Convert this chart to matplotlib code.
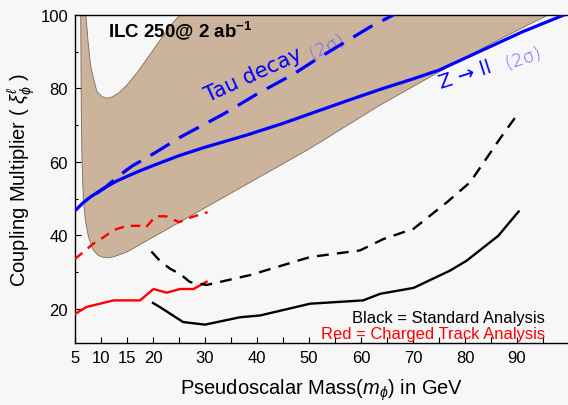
import matplotlib
matplotlib.use("Agg")
import matplotlib.pyplot as plt
import numpy as np

plt.rcParams['font.family'] = ['Liberation Sans', 'DejaVu Sans']
plt.rcParams['mathtext.fontset'] = 'custom'
plt.rcParams['mathtext.rm'] = 'Liberation Sans'
plt.rcParams['mathtext.it'] = 'Liberation Sans:italic'
plt.rcParams['mathtext.bf'] = 'Liberation Sans:bold'

# tan band (allowed region): lower edge and the notch at the top
band_low_mass = [6.0, 6.1, 6.2, 6.35, 6.6, 7.0, 7.6, 8.5, 9.5, 10.5, 11.5, 12.5, 15, 20, 25, 30,
                 40, 50, 63.7, 75, 85, 95.7, 99.8, 100]
band_low_coup = [106, 100, 75, 60, 50, 44, 39.5, 36, 34.5, 34, 33.9, 34.2, 35.5, 39.5, 43.5, 47.5,
                 55.5, 63.5, 75.5, 84.5, 92.2, 99.8, 103, 110]
notch_mass = [27, 25.2, 23.3, 21, 18.8, 17, 14.9, 13.5, 12.2, 11.1, 10.2, 9.2, 8.6, 8.0, 7.5, 7.1, 6.9]
notch_coup = [110, 100, 97.1, 92.4, 88, 84.4, 80.8, 78.9, 77.7, 77.3, 77.8, 79.2, 82.5, 86.2, 93, 100, 106]

# Z -> ll (2 sigma), blue solid
z_mass = [5, 6.5, 8, 10.5, 13, 17, 20, 25, 30, 38, 45, 51, 57, 64, 70, 75, 83, 91, 99]
z_coup = [46.7, 48.8, 50.5, 52.8, 54.8, 57.3, 59.0, 61.7, 64.0, 67.3, 70.5, 73.5, 76.5, 79.9, 82.6, 85.0, 90.2, 95.4, 100]

# Tau decay (2 sigma), blue dashed
tau_mass = [9, 10.5, 13.7, 15.9, 20.4, 25.2, 33.5, 39.9, 47, 51.5, 61.7, 66.2]
tau_coup = [51.3, 52.7, 56.5, 58.8, 62.5, 66.7, 73.0, 78.4, 83.9, 88.0, 96.7, 100]

# charged track analysis (red)
red_dash_mass = [5, 8.5, 10.5, 12.5, 15, 17.5, 18.5, 20.5, 22.5, 25, 27.5, 30.5]
red_dash_coup = [33.6, 37.7, 39.5, 41.5, 42.6, 42.6, 42.0, 45.2, 45.2, 43.6, 45.0, 46.3]
red_solid_mass = [5, 7.2, 12.4, 17.5, 20.1, 22.6, 25.2, 27.8, 30.3]
red_solid_coup = [18.6, 20.5, 22.3, 22.3, 25.4, 24.4, 25.4, 25.4, 27.4]

# standard analysis (black)
black_solid_mass = [20, 21.3, 25.8, 30, 36.7, 40.6, 50.2, 60.4, 63.7, 70.1, 77.1, 80.3, 86.4, 90.3]
black_solid_coup = [21.6, 20.5, 16.4, 15.7, 17.7, 18.2, 21.4, 22.3, 24.1, 25.7, 30.4, 33.1, 39.9, 46.5]
black_dash_mass = [19.7, 21.3, 23.3, 25.2, 27.1, 30.3, 38.7, 50.2, 59.8, 64.3, 70.1, 76.5, 81, 86.7, 89.6]
black_dash_coup = [35.6, 33.1, 30.9, 29.5, 27.3, 26.5, 29.2, 34.1, 35.9, 39.0, 41.8, 49.0, 54.5, 66.3, 72.0]

xtick_pos = list(range(5, 100, 5))
xtick_labels = [5, 10, 15, 20, 30, 40, 50, 60, 70, 80, 90]
ytick_major = [20, 40, 60, 80, 100]
ytick_minor = [30, 50, 70, 90]

bg = '#f7f7f7'
fig = plt.figure(figsize=(5.68, 4.06), dpi=100, facecolor=bg)
ax = fig.add_axes([75 / 568, 62 / 406, 493 / 568, 328 / 406])
ax.set_facecolor(bg)

# band
poly_x = band_low_mass + notch_mass
poly_y = band_low_coup + notch_coup
ax.fill(poly_x, poly_y, color='#cbb39c', lw=0, zorder=1)
ax.plot(band_low_mass, band_low_coup, color='#7d6b5b', lw=0.6, zorder=2)
ax.plot(notch_mass, notch_coup, color='#7d6b5b', lw=0.6, zorder=2)

ax.plot(z_mass, z_coup, color='#0000ff', lw=2.3, zorder=4)
ax.plot(tau_mass, tau_coup, color='#0000ff', lw=2.3, dashes=(7, 3.5), zorder=4)
ax.plot(red_dash_mass, red_dash_coup, color='#ff0000', lw=1.7, dashes=(4, 3), zorder=3)
ax.plot(red_solid_mass, red_solid_coup, color='#ff0000', lw=1.7, zorder=3)
ax.plot(black_solid_mass, black_solid_coup, color='black', lw=1.7, zorder=3)
ax.plot(black_dash_mass, black_dash_coup, color='black', lw=1.7, dashes=(5, 3.5), zorder=3)

ax.set_xlim(5, 99.8)
ax.set_ylim(10.7, 100)

ax.set_xticks(xtick_pos)
ax.set_xticklabels([str(v) if v in xtick_labels else '' for v in xtick_pos])
ax.set_yticks(ytick_major)
ax.set_yticks(ytick_minor, minor=True)
ax.tick_params(axis='both', which='major', direction='in', length=4, width=0.8,
               labelsize=12, pad=5)
ax.tick_params(axis='y', which='minor', direction='in', length=2.5, width=0.8)

for s in ['left', 'bottom', 'top']:
    ax.spines[s].set_linewidth(1.0)
ax.spines['right'].set_visible(False)

ax.set_xlabel(r'Pseudoscalar Mass($m_\phi$) in GeV', fontsize=14.5, labelpad=8)
ax.set_ylabel(r'Coupling Multiplier ( $\xi_\phi^\ell$ )', fontsize=14.5, labelpad=2.5)

ax.text(11.3, 94.2, r'ILC 250@ 2 ab$^{\mathbf{-1}}$', fontsize=13.5, fontweight='bold',
        ha='left', va='baseline')

ax.text(30.6, 76.4, 'Tau decay', color='#0000ff', fontsize=15, family='DejaVu Sans',
        rotation=24.5, rotation_mode='anchor', ha='left', va='baseline')
ax.text(50.6, 88.3, '(2σ)', color='#6868ff', fontsize=13, family='DejaVu Sans',
        fontweight='light', rotation=24.5, rotation_mode='anchor', ha='left', va='baseline')
ax.text(75.4, 80.2, 'Z → ll', color='#0000ff', fontsize=14.5, family='DejaVu Sans',
        rotation=18, rotation_mode='anchor', ha='left', va='baseline')
ax.text(88.2, 85.6, '(2σ)', color='#6868ff', fontsize=13, family='DejaVu Sans',
        fontweight='light', rotation=18, rotation_mode='anchor', ha='left', va='baseline')

ax.text(95.4, 17.6, 'Black = Standard Analysis', color='black', fontsize=11.9,
        ha='right', va='center')
ax.text(95.4, 13.3, 'Red = Charged Track Analysis', color='#ff0000', fontsize=11.9,
        ha='right', va='center')

fig.savefig('out.png', dpi=100, facecolor=bg)
